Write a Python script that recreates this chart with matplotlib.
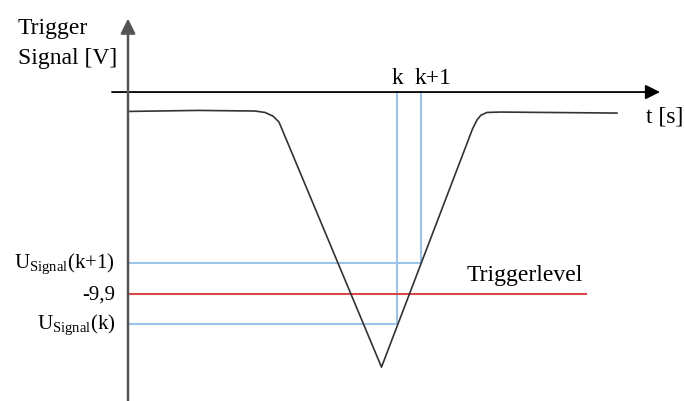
import matplotlib.pyplot as plt

plt.rcParams['font.family'] = ['Liberation Serif', 'DejaVu Serif']
plt.rcParams['mathtext.fontset'] = 'custom'
plt.rcParams['mathtext.rm'] = 'Liberation Serif'
plt.rcParams['mathtext.it'] = 'Liberation Serif:italic'

# trigger signal (time in arbitrary units, voltage in V)
signal_t = [0.0, 7.0, 12.7, 13.7, 14.5, 15.1, 25.35, 34.45, 34.9, 35.3, 35.9, 37.2, 48.9]
signal_v = [-0.95, -0.90, -0.93, -1.00, -1.18, -1.47, -13.48, -1.81, -1.37, -1.13, -1.00, -0.98, -1.03]

trigger_level = -9.9
trigger_end = 45.8
t_k = 26.9
t_k1 = 29.3
u_k = -11.37
u_k1 = -8.38

fig = plt.figure(figsize=(6.85, 4.02), dpi=100)
ax = fig.add_axes([0, 0, 1, 1])
ax.set_xlim(-12.8, 55.7)
ax.set_ylim(-15.14, 4.56)
ax.axis('off')

# axes arrows
ax.annotate('', xy=(53.2, 0), xytext=(-1.6, 0),
            arrowprops=dict(arrowstyle='-|>', color='black', lw=1.3, mutation_scale=22,
                            shrinkA=0, shrinkB=0))
ax.annotate('', xy=(0, 3.6), xytext=(0, -15.2),
            arrowprops=dict(arrowstyle='-|>', color='#555555', lw=1.8, mutation_scale=22,
                            shrinkA=0, shrinkB=0))

# helper lines
blue = '#9cc3e8'
ax.plot([0, t_k1], [u_k1, u_k1], color=blue, lw=1.5)
ax.plot([0, t_k], [u_k, u_k], color=blue, lw=1.5)
ax.plot([t_k, t_k], [0, u_k], color=blue, lw=1.5)
ax.plot([t_k1, t_k1], [0, u_k1], color=blue, lw=1.5)
ax.plot([0, trigger_end], [trigger_level, trigger_level], color='#d9484a', lw=1.5)

# signal
ax.plot(signal_t, signal_v, color='#333333', lw=1.2)

fs = 17
ax.text(-11.0, 2.87, 'Trigger', fontsize=fs, va='baseline', ha='left')
ax.text(-11.0, 1.4, 'Signal [V]', fontsize=fs, va='baseline', ha='left')
ax.text(t_k, 0.43, 'k', fontsize=fs, ha='center', va='baseline')
ax.text(t_k1 + 1.2, 0.43, 'k+1', fontsize=fs, ha='center', va='baseline')
ax.text(51.8, -1.18, 't [s]', fontsize=fs, ha='left', va='center')
ax.text(39.7, -8.95, 'Triggerlevel', fontsize=fs, ha='center', va='center')

fl = 15
ax.text(-1.3, u_k1, r'U$_{\mathrm{Signal}}$(k+1)', fontsize=fl, ha='right', va='center')
ax.text(-1.3, trigger_level, '-9,9', fontsize=fl, ha='right', va='center')
ax.text(-1.3, u_k, r'U$_{\mathrm{Signal}}$(k)', fontsize=fl, ha='right', va='center')

fig.savefig('out.png', dpi=100)
